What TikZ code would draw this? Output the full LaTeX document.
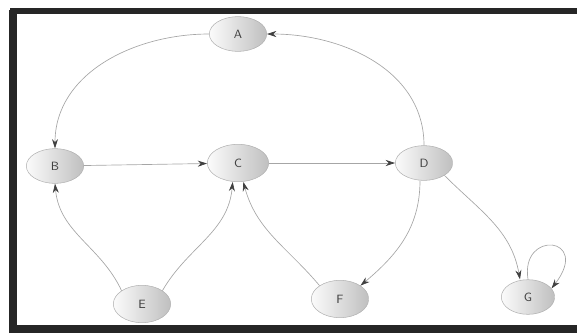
\documentclass[tikz,border=0pt]{standalone}
\usetikzlibrary{arrows.meta,shapes.geometric}

\begin{document}
\begin{tikzpicture}[x=0.75pt,y=0.75pt,yscale=-1,xscale=1,
    vertex/.style={ellipse,draw=gray!60,left color=gray!3,right color=gray!50,
        minimum width=43pt,minimum height=26pt,inner sep=0pt,
        font=\sffamily\small,text=gray!50!black},
    edge/.style={draw=gray!70,line width=0.5pt,-{Stealth[length=7pt,width=4.5pt,color=gray!50!black]}}]
        \useasboundingbox (0,0) rectangle (577,333);
        % frame
        \draw [line width=6pt,color=black!85] (13,333) -- (13,10) ;
        \draw [line width=4pt,color=black!85] (10,11) -- (590,11) ;
        \draw [line width=6pt,color=black!85] (10,329) -- (590,329) ;
        % vertices
        \node [vertex] (A) at (238,34) {A};
        \node [vertex] (B) at (55,166) {B};
        \node [vertex,minimum width=46pt,minimum height=28pt] (C) at (238,163) {C};
        \node [vertex] (D) at (424,163) {D};
        \node [vertex,minimum height=28pt] (E) at (142,304) {E};
        \node [vertex,minimum height=28pt] (F) at (340,299) {F};
        \node [vertex,minimum width=40pt] (G) at (528,297) {G};
        % edges
        \draw [edge] (A.west) to[out=180,in=-90] (B.north);
        \draw [edge] (D.north) to[out=-90,in=0] (A.east);
        \draw [edge] (B) -- (C);
        \draw [edge] (C) -- (D);
        \draw [edge] (E.north west) to[out=-115,in=85] (B.south);
        \draw [edge] (E.north east) to[out=-60,in=95] ([xshift=-4pt]C.south);
        \draw [edge] (F.north west) to[out=-130,in=75] ([xshift=4pt]C.south);
        \draw [edge] ([xshift=-3pt]D.south) to[out=90,in=-40] (F.north east);
        \draw [edge] (D.south east) to[out=45,in=-100] ([xshift=-6pt]G.north);
        \draw [edge] (G.north) .. controls +(-8,-50) and +(40,-52) .. (G.20);
\end{tikzpicture}
\end{document}
